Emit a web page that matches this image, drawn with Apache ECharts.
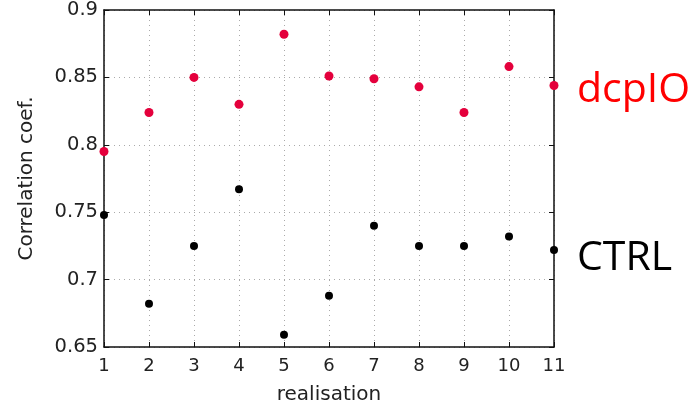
<!DOCTYPE html>
<html><head><meta charset="utf-8">
<script src="https://cdn.jsdelivr.net/npm/echarts@6/dist/echarts.min.js"></script>
<style>html,body{margin:0;padding:0;background:#fff}#c{width:696px;height:405px}</style>
</head><body><div id="c"></div>
<script>
const realisations = [1,2,3,4,5,6,7,8,9,10,11];
const dcpIO = [0.795,0.824,0.850,0.830,0.882,0.851,0.849,0.843,0.824,0.858,0.844];
const ctrl  = [0.748,0.682,0.725,0.767,0.659,0.688,0.740,0.725,0.725,0.732,0.722];
const yTicks = [0.65,0.7,0.75,0.8,0.85,0.9];
const seriesNames = ['dcpIO','CTRL'];

const font = 'DejaVu Sans';
const chart = echarts.init(document.getElementById('c'), null, {renderer:'canvas'});
const gridL=104, gridR=142, gridT=10, gridB=58;
const fmtY = v => { const r = Math.round(v*100)/100; return yTicks.includes(r) ? String(r) : ''; };
chart.setOption({
  animation:false,
  backgroundColor:'#fff',
  grid:{left:gridL,right:gridR,top:gridT,bottom:gridB,show:false,containLabel:false,outerBoundsMode:'none'},
  xAxis:[{
    type:'value',min:1,max:11,interval:1,position:'bottom',
    name:'realisation',nameLocation:'middle',nameGap:38,
    nameTextStyle:{fontFamily:font,fontSize:20,color:'#222'},
    axisLine:{show:true,onZero:false,lineStyle:{color:'#111',width:1.5}},
    axisTick:{show:true,inside:true,length:5,lineStyle:{color:'#111'}},
    axisLabel:{fontFamily:font,fontSize:18,color:'#222',margin:10},
    splitLine:{show:true,lineStyle:{color:'#aaa',type:[1,4],width:1}}
  },{
    type:'value',min:1,max:11,interval:1,position:'top',
    axisLine:{show:true,onZero:false,lineStyle:{color:'#111',width:1.5}},
    axisTick:{show:true,inside:true,length:5,lineStyle:{color:'#111'}},
    axisLabel:{show:false},splitLine:{show:false}
  }],
  yAxis:[{
    type:'value',min:0.65,max:0.9,interval:0.05,position:'left',
    name:'Correlation coef.',nameLocation:'middle',nameGap:67,
    nameTextStyle:{fontFamily:font,fontSize:20,color:'#222'},
    axisLine:{show:true,onZero:false,lineStyle:{color:'#111',width:1.5}},
    axisTick:{show:true,inside:true,length:5,lineStyle:{color:'#111'}},
    axisLabel:{fontFamily:font,fontSize:19.5,color:'#222',margin:6,formatter:fmtY},
    splitLine:{show:true,lineStyle:{color:'#aaa',type:[1,4],width:1}}
  },{
    type:'value',min:0.65,max:0.9,interval:0.05,position:'right',
    axisLine:{show:true,onZero:false,lineStyle:{color:'#111',width:1.5}},
    axisTick:{show:true,inside:true,length:5,lineStyle:{color:'#111'}},
    axisLabel:{show:false},splitLine:{show:false}
  }],
  series:[{
    name:seriesNames[0],type:'scatter',symbol:'circle',symbolSize:9,
    itemStyle:{color:'#e4003c',opacity:1},
    data:realisations.map((r,i)=>[r,dcpIO[i]]),
    clip:false,z:5
  },{
    name:seriesNames[1],type:'scatter',symbol:'circle',symbolSize:8,
    itemStyle:{color:'#000',opacity:1},
    data:realisations.map((r,i)=>[r,ctrl[i]]),
    clip:false,z:5
  }],
  graphic:[
    {type:'text',left:577,top:70,style:{text:seriesNames[0],fill:'#ff0000',font:'41px "Open Sans"'}},
    {type:'text',left:577,top:238,style:{text:seriesNames[1],fill:'#000',font:'41px "Open Sans"'}}
  ]
});
</script></body></html>
